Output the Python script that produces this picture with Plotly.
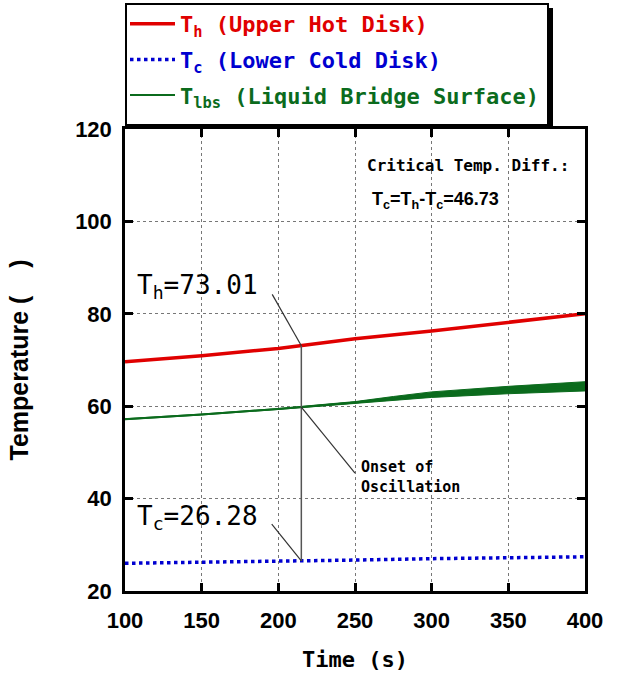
import plotly.graph_objects as go

# ---- data ----
time = [100, 150, 200, 250, 300, 350, 400]
t_hot = [69.6, 70.9, 72.5, 74.6, 76.3, 78.2, 80.0]
t_cold = [26.0, 26.2, 26.4, 26.7, 27.0, 27.2, 27.4]

time_lbs = [100, 150, 200, 250, 275, 300, 350, 400]
t_lbs = [57.2, 58.2, 59.4, 60.8, 61.7, 62.5, 63.5, 64.3]
# oscillation envelope of the liquid-bridge surface temperature
t_lbs_upper = [57.3, 58.3, 59.5, 61.0, 62.1, 63.1, 64.3, 65.3]
t_lbs_lower = [57.1, 58.1, 59.3, 60.6, 61.3, 61.9, 62.7, 63.3]

onset_time = 215
onset_th = 73.1
onset_tlbs = 59.8
onset_tc = 26.5

x_ticks = [100, 150, 200, 250, 300, 350, 400]
y_ticks = [20, 40, 60, 80, 100, 120]

MONO = "DejaVu Sans Mono"
SANS = "Liberation Sans"

# plot-area geometry in pixels (for placing the legend box)
W, H = 617, 677
ML, MR, MT, MB = 125, 32, 129, 86
PW, PH = W - ML - MR, H - MT - MB


def px_x(p):
    return (p - ML) / PW


def px_y(p):
    return (H - MB - p) / PH


fig = go.Figure()

# oscillation band (no legend)
fig.add_trace(go.Scatter(x=time_lbs, y=t_lbs_upper, mode="lines",
                         line=dict(color="#0b6b1d", width=1), showlegend=False,
                         hoverinfo="skip"))
fig.add_trace(go.Scatter(x=time_lbs, y=t_lbs_lower, mode="lines",
                         line=dict(color="#0b6b1d", width=1), fill="tonexty",
                         fillcolor="#0b6b1d", showlegend=False, hoverinfo="skip"))

fig.add_trace(go.Scatter(
    x=time, y=t_hot, mode="lines", line=dict(color="#e00000", width=3.5),
    legendgroup="a",
    name='<span style="color:#e00000">T<sub>h</sub> (Upper Hot Disk)</span>'))
fig.add_trace(go.Scatter(
    x=time, y=t_cold, mode="lines", line=dict(color="#0000d0", width=3.5, dash="dot"),
    legendgroup="b",
    name='<span style="color:#0000d0">T<sub>c</sub> (Lower Cold Disk)</span>'))
fig.add_trace(go.Scatter(
    x=time_lbs, y=t_lbs, mode="lines", line=dict(color="#0b6b1d", width=2),
    legendgroup="c",
    name='<span style="color:#0b6b1d">T<sub>lbs</sub> (Liquid Bridge Surface)</span>'))

# guide lines
line_style = dict(color="#333333", width=1.2)
fig.add_shape(type="line", x0=onset_time, x1=onset_time, y0=onset_tc, y1=onset_th,
              line=dict(color="#555555", width=1.5))
fig.add_shape(type="line", x0=196.0, y0=84.2, x1=onset_time, y1=onset_th, line=line_style)
fig.add_shape(type="line", x0=onset_time, y0=onset_tlbs, x1=250, y1=45.5, line=line_style)
fig.add_shape(type="line", x0=195.7, y0=34.5, x1=onset_time, y1=onset_tc, line=line_style)

# legend box with drop shadow
fig.add_shape(type="rect", xref="paper", yref="paper",
              x0=px_x(130), x1=px_x(553), y0=px_y(129), y1=px_y(8),
              fillcolor="black", line=dict(width=0), layer="above")
fig.add_shape(type="rect", xref="paper", yref="paper",
              x0=px_x(126), x1=px_x(548), y0=px_y(125), y1=px_y(4),
              fillcolor="white", line=dict(color="black", width=2), layer="above")

# text annotations
fig.add_annotation(x=106.5, y=86.0, xanchor="left", yanchor="middle", showarrow=False,
                   text="T<sub>h</sub>=73.01", font=dict(family=MONO, size=26, color="black"))
fig.add_annotation(x=106.5, y=36.0, xanchor="left", yanchor="middle", showarrow=False,
                   text="T<sub>c</sub>=26.28", font=dict(family=MONO, size=26, color="black"))
fig.add_annotation(x=256.5, y=112.2, xanchor="left", yanchor="middle", showarrow=False,
                   text="Critical Temp. Diff.:",
                   font=dict(family=MONO, size=16, color="black", weight="bold"))
fig.add_annotation(x=260.0, y=104.6, xanchor="left", yanchor="middle", showarrow=False,
                   text="T<sub>c</sub>=T<sub>h</sub>-T<sub>c</sub>=46.73",
                   font=dict(family=SANS, size=18, color="black", weight="bold"))
fig.add_annotation(x=252.9, y=44.7, xanchor="left", yanchor="middle", showarrow=False,
                   align="left", text="Onset of<br>Oscillation",
                   font=dict(family=MONO, size=15, color="black", weight="bold"))

axis_common = dict(
    showline=True, linecolor="black", linewidth=2.5, mirror="allticks",
    ticks="inside", ticklen=8, tickwidth=2.5, tickcolor="black",
    showgrid=True, gridcolor="#777777", griddash="dot", gridwidth=1,
    zeroline=False,
    tickfont=dict(family=SANS, size=22, color="black", weight="bold"),
)

fig.update_xaxes(range=[100, 400], tickvals=x_ticks, ticklabelstandoff=8,
                 title=dict(text="Time (s)", standoff=20,
                            font=dict(family=MONO, size=22, color="black", weight="bold")),
                 **axis_common)
fig.update_yaxes(range=[20, 120], tickvals=y_ticks, ticklabelstandoff=6,
                 title=dict(text="Temperature (\u00a0\u00a0\u00a0\u00a0)", standoff=40,
                            font=dict(family=SANS, size=25, color="black", weight="bold")),
                 **axis_common)

fig.update_layout(
    width=W, height=H,
    margin=dict(l=ML, r=MR, t=MT, b=MB, autoexpand=False),
    plot_bgcolor="white", paper_bgcolor="white",
    showlegend=True,
    legend=dict(x=0, y=px_y(3), xanchor="left", yanchor="top",
                traceorder="grouped",
                bgcolor="rgba(0,0,0,0)", borderwidth=0,
                font=dict(family=MONO, size=22, weight="bold"),
                tracegroupgap=4, itemwidth=45),
)

fig.write_html("out.html")
